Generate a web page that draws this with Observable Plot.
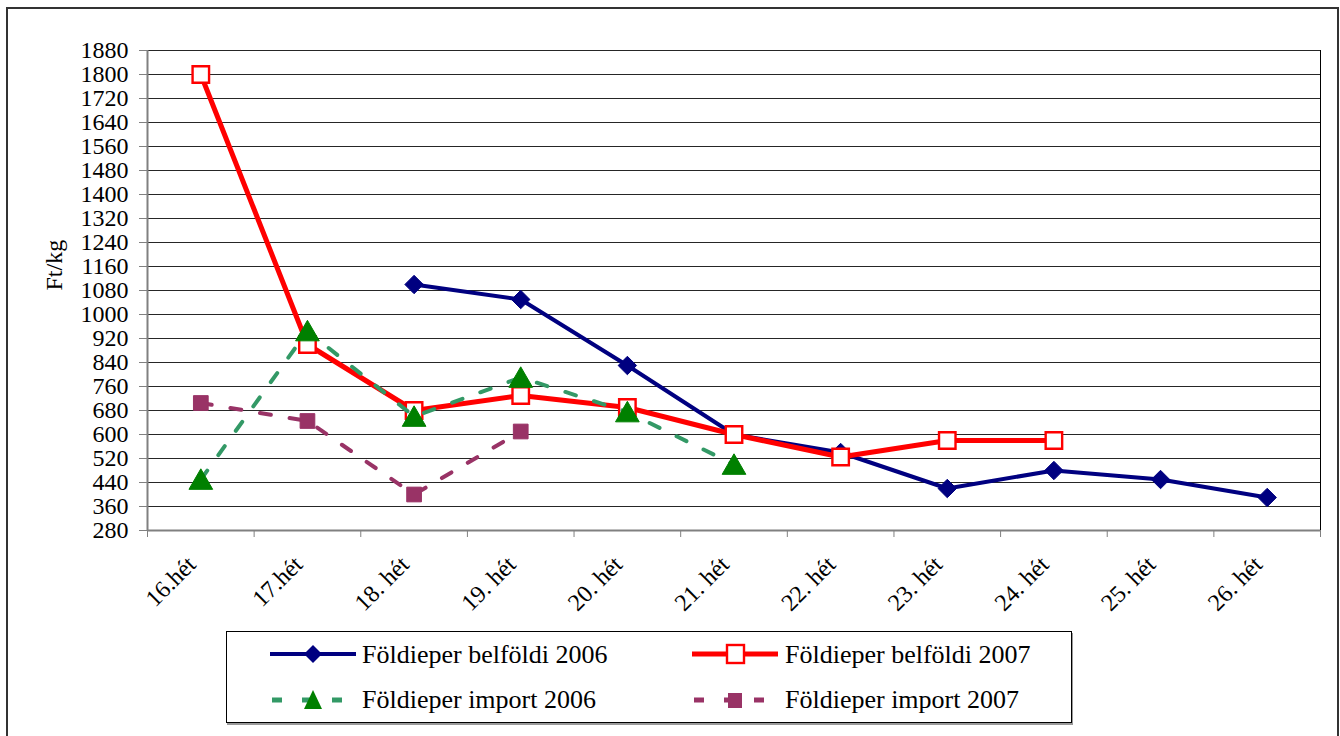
<!DOCTYPE html>
<html><head><meta charset="utf-8">
<script src="https://cdn.jsdelivr.net/npm/d3@7"></script>
<script src="https://cdn.jsdelivr.net/npm/@observablehq/plot@0.6"></script>
<style>
body{margin:0;background:#fff;font-family:"Liberation Serif","Times New Roman",serif;}
#frame{position:absolute;left:6px;top:7px;width:1333px;height:760px;border:2px solid #333;box-sizing:border-box;}
#chart{position:absolute;left:0;top:0;}
#chart svg, #chart svg text{font-family:"Liberation Serif","Times New Roman",serif !important;}
#legend{position:absolute;left:226px;top:631px;width:846px;height:92px;border:1px solid #000;box-sizing:border-box;background:#fff;box-shadow:1px 2px 0 #999;}
.item{position:absolute;font-size:26px;line-height:30px;white-space:nowrap;color:#000;}
.sw{position:absolute;}
</style></head><body>
<div id="frame"></div>
<div id="chart"></div>
<div id="legend"></div>
<script>
const weeks = ["16.hét","17.hét","18. hét","19. hét","20. hét","21. hét","22. hét","23. hét","24. hét","25. hét","26. hét"];
const belfoldi2006 = [null, null, 1100, 1050, 830, 600, 540, 420, 480, 450, 390];
const belfoldi2007 = [1800, 900, 680, 730, 690, 600, 525, 580, 580, null, null];
const import2006   = [450, 945, 660, 790, 675, 500, null, null, null, null, null];
const import2007   = [705, 645, 400, 610, null, null, null, null, null, null, null];
const seriesNames = ["Földieper belföldi 2006","Földieper belföldi 2007","Földieper import 2006","Földieper import 2007"];
const yTicks = d3.range(280, 1881, 80);

const pts = vals => weeks.map((w, i) => ({i: i + 0.5, v: vals[i]})).filter(d => d.v != null);

const navy = "#000080", red = "#FF0000", green = "#339966", darkGreen = "#008000", plum = "#993366";
const serif = '"Liberation Serif", "Times New Roman", serif';

const chart = Plot.plot({
  width: 1340, height: 620,
  marginLeft: 147, marginRight: 20, marginTop: 50, marginBottom: 90,
  x: {domain: [0, weeks.length], axis: null},
  y: {domain: [280, 1880], axis: null},
  style: {fontFamily: serif, background: "transparent", color: "#000"},
  marks: [
    Plot.ruleY(yTicks.slice(1), {stroke: "#000", strokeWidth: 1, strokeOpacity: 0.85}),
    Plot.ruleX([weeks.length], {stroke: "#000", strokeWidth: 1}),
    Plot.ruleX([0], {stroke: "#808080", strokeWidth: 2}),
    Plot.ruleY([280], {stroke: "#808080", strokeWidth: 2}),
    Plot.axisY({ticks: yTicks, tickFormat: d => String(d), tickSize: 8, tickPadding: 11, fontSize: 24, fontFamily: serif, stroke: "#808080", fill: "#000", label: null}),
    Plot.axisX({ticks: d3.range(0, weeks.length + 1), tickSize: 7, tickFormat: () => "", stroke: "#808080", label: null}),
    Plot.text(weeks, {x: (d, i) => i + 0.5, text: d => d, frameAnchor: "bottom", dy: 30, dx: -9, rotate: -45, textAnchor: "end", lineAnchor: "middle", fontSize: 24, fontFamily: serif, fill: "#000"}),
    Plot.text(["Ft/kg"], {frameAnchor: "left", dx: -93, rotate: -90, fontSize: 24, fontFamily: serif, lineAnchor: "middle", fill: "#000"}),

    Plot.line(pts(belfoldi2006), {x: "i", y: "v", stroke: navy, strokeWidth: 4}),
    Plot.dot(pts(belfoldi2006), {x: "i", y: "v", symbol: "diamond2", r: 8.3, fill: navy, stroke: navy, strokeWidth: 1}),

    Plot.line(pts(belfoldi2007), {x: "i", y: "v", stroke: red, strokeWidth: 5}),
    Plot.dot(pts(belfoldi2007), {x: "i", y: "v", symbol: "square", r: 9.3, fill: "#fff", stroke: red, strokeWidth: 2.4}),

    Plot.line(pts(import2006), {x: "i", y: "v", stroke: green, strokeWidth: 4, strokeDasharray: "11,19"}),
    Plot.dot(pts(import2006), {x: "i", y: "v", symbol: "triangle", r: 8.8, fill: darkGreen, stroke: darkGreen, strokeWidth: 1, dy: 3}),

    Plot.line(pts(import2007), {x: "i", y: "v", stroke: plum, strokeWidth: 4, strokeDasharray: "11,19"}),
    Plot.dot(pts(import2007), {x: "i", y: "v", symbol: "square", r: 8.3, fill: plum, stroke: plum, strokeWidth: 1})
  ]
});
document.getElementById("chart").appendChild(chart);

// Legend
const legend = document.getElementById("legend");
const swatches = [
  `<line x1="0" y1="15" x2="86" y2="15" stroke="${navy}" stroke-width="4"/><path d="M43,6 L52,15 L43,24 L34,15 Z" fill="${navy}"/>`,
  `<line x1="0" y1="15" x2="86" y2="15" stroke="${red}" stroke-width="5"/><rect x="35" y="6" width="17" height="18" fill="#fff" stroke="${red}" stroke-width="2.4"/>`,
  `<line x1="2" y1="15" x2="76" y2="15" stroke="${green}" stroke-width="5" stroke-dasharray="10,20"/><path d="M43,5 L52,24 L34,24 Z" fill="${darkGreen}"/>`,
  `<line x1="2" y1="15" x2="76" y2="15" stroke="${plum}" stroke-width="5" stroke-dasharray="10,20"/><rect x="36" y="8" width="14" height="15" fill="${plum}"/>`
];
const pos = [[43, 7, 135, 8], [465, 7, 558, 8], [43, 53, 135, 53], [465, 53, 558, 53]];
seriesNames.forEach((name, k) => {
  const [sx, sy, tx, ty] = pos[k];
  const s = document.createElement("div");
  s.className = "sw";
  s.style.left = sx + "px"; s.style.top = sy + "px";
  s.innerHTML = `<svg width="90" height="30">${swatches[k]}</svg>`;
  legend.appendChild(s);
  const t = document.createElement("div");
  t.className = "item";
  t.style.left = tx + "px"; t.style.top = ty + "px";
  t.textContent = name;
  legend.appendChild(t);
});
</script>
</body></html>
